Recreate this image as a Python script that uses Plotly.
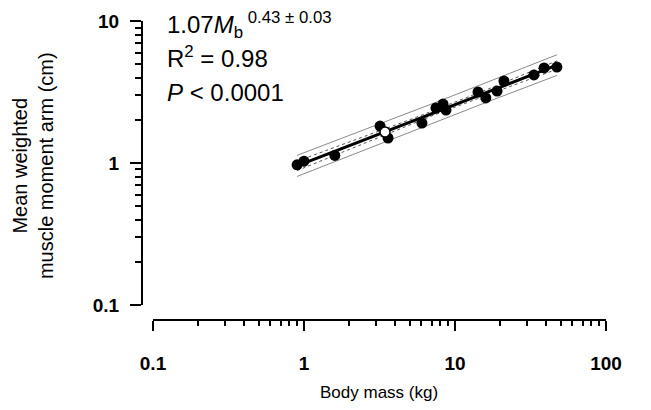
import numpy as np
import plotly.graph_objects as go

# Data
body_mass = [0.90, 1.00, 1.60, 3.19, 3.60, 6.04, 7.48, 8.33, 8.72, 14.2, 16.0, 19.0, 21.1, 33.3, 38.9, 47.3]
moment_arm = [0.97, 1.03, 1.13, 1.82, 1.50, 1.91, 2.44, 2.60, 2.36, 3.16, 2.87, 3.21, 3.78, 4.17, 4.67, 4.74]
open_mass = [3.44]
open_arm = [1.65]

x_ticks = [0.1, 1, 10, 100]
y_ticks = [0.1, 1, 10]
x_minor = [0.2, 0.3, 0.4, 0.5, 0.6, 0.7, 0.8, 0.9, 2, 3, 4, 5, 6, 7, 8, 9, 20, 30, 40, 50, 60, 70, 80, 90]
y_minor = [0.2, 0.3, 0.4, 0.5, 0.6, 0.7, 0.8, 0.9, 2, 3, 4, 5, 6, 7, 8, 9]

# Regression in log-log space with confidence and prediction bands
lx = np.log10(np.array(body_mass + open_mass))
ly = np.log10(np.array(moment_arm + open_arm))
n = len(lx)
b, a = np.polyfit(lx, ly, 1)
res = ly - (a + b * lx)
s = np.sqrt(np.sum(res ** 2) / (n - 2))
t = 2.131
xx = np.linspace(lx.min(), lx.max(), 100)
yy = a + b * xx
sxx = np.sum((lx - lx.mean()) ** 2)
ci = t * s * np.sqrt(1 / n + (xx - lx.mean()) ** 2 / sxx)
pi = t * s * np.sqrt(1 + 1 / n + (xx - lx.mean()) ** 2 / sxx)
X = 10 ** xx

fig = go.Figure()
for sign in (1, -1):
    fig.add_trace(go.Scatter(x=X, y=10 ** (yy + sign * pi), mode="lines",
                             line=dict(color="#8a8a8a", width=1), hoverinfo="skip"))
for sign in (1, -1):
    fig.add_trace(go.Scatter(x=X, y=10 ** (yy + sign * ci), mode="lines",
                             line=dict(color="#555555", width=1, dash="3px,3px"), hoverinfo="skip"))
fig.add_trace(go.Scatter(x=X, y=10 ** yy, mode="lines",
                         line=dict(color="black", width=3), hoverinfo="skip"))
fig.add_trace(go.Scatter(x=body_mass, y=moment_arm, mode="markers",
                         marker=dict(color="black", size=11, line=dict(color="black", width=0))))
fig.add_trace(go.Scatter(x=open_mass, y=open_arm, mode="markers",
                         marker=dict(color="white", size=10, line=dict(color="black", width=1.5))))

font_family = "Arial, Liberation Sans, sans-serif"
axis_common = dict(
    type="log", showgrid=False, zeroline=False, showline=True, linecolor="black", linewidth=2,
    ticks="outside", tickwidth=2, tickcolor="black", automargin=False,
    tickfont=dict(family=font_family, size=19, color="black", weight="bold"),
)
fig.update_layout(
    width=651, height=410, showlegend=False,
    plot_bgcolor="white", paper_bgcolor="white",
    margin=dict(l=134, r=53, t=13, b=98),
    font=dict(family=font_family, color="black", size=19),
    xaxis=dict(**axis_common, range=[-1, 2], domain=[0.0237, 1], anchor="free", position=0,
               ticklen=10, ticklabelstandoff=16,
               tickvals=x_ticks, ticktext=["0.1", "1", "10", "100"],
               minor=dict(tickvals=x_minor, ticks="outside", ticklen=5, tickwidth=1.5, tickcolor="black")),
    yaxis=dict(**axis_common, range=[-1, 1], domain=[0.0502, 1], anchor="free", position=0,
               ticklen=11, ticklabelstandoff=7,
               tickvals=y_ticks, ticktext=["0.1", "1", "10"],
               minor=dict(tickvals=y_minor, ticks="outside", ticklen=6, tickwidth=1.5, tickcolor="black")),
    annotations=[
        dict(text="Body mass (kg)", xref="paper", yref="paper", x=0.511, y=-0.241,
             showarrow=False, font=dict(size=17), xanchor="center", yanchor="middle"),
        dict(text="Mean weighted<br>muscle moment arm (cm)", xref="paper", yref="paper",
             x=-0.235, y=0.518, textangle=-90, showarrow=False, font=dict(size=20),
             xanchor="center", yanchor="middle"),
        dict(text="1.07<i>M</i><sub>b</sub><sup> 0.43 ± 0.03</sup>", xref="paper", yref="paper",
             x=0.0496, y=0.987, showarrow=False, font=dict(size=24), xanchor="left", yanchor="middle"),
        dict(text="R<sup>2</sup> = 0.98", xref="paper", yref="paper",
             x=0.0496, y=0.8796, showarrow=False, font=dict(size=24), xanchor="left", yanchor="middle"),
        dict(text="<i>P</i> < 0.0001", xref="paper", yref="paper",
             x=0.0496, y=0.7592, showarrow=False, font=dict(size=24), xanchor="left", yanchor="middle"),
    ],
)
fig.write_html("out.html")
